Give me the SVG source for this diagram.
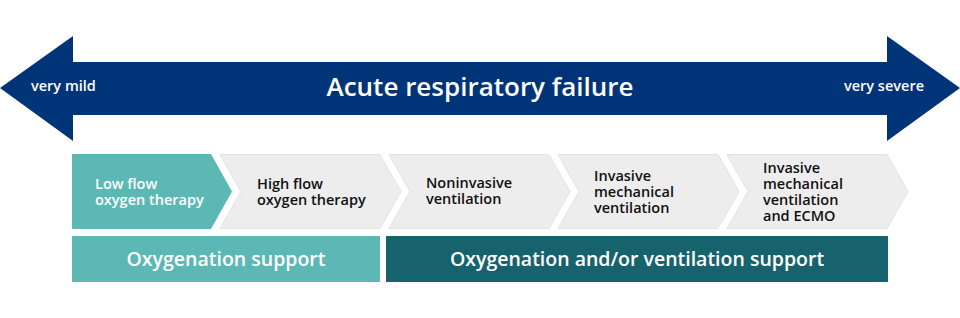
<svg xmlns="http://www.w3.org/2000/svg" width="960" height="318" viewBox="0 0 960 318">
<style>
  text { font-family: "Open Sans", "Noto Sans", "Liberation Sans", sans-serif; font-weight: 600; }
  .head { fill: #ffffff; font-size: 26px; }
  .end { fill: #ffffff; font-size: 14.5px; }
  .step { fill: #111111; font-size: 14.5px; }
  .stepw { fill: #ffffff; font-size: 14.5px; }
  .bar { fill: #ffffff; font-size: 19.5px; }
  .grey { fill: #ededed; stroke: #e3e3e3; stroke-width: 1; }
</style>
<rect width="960" height="318" fill="#ffffff"/>
<g id="severity-arrow">
  <polygon points="0,88 73,36 73,62 887,62 887,36 960,88 887,141 887,115 73,115 73,141" fill="#003478"/>
  <text class="head" x="480" y="96" text-anchor="middle">Acute respiratory failure</text>
  <text class="end" x="31" y="91">very mild</text>
  <text class="end" x="924" y="91" text-anchor="end">very severe</text>
</g>
<g id="step-low-flow">
  <polygon points="72,154 211,154 232,191.5 211,229 72,229" fill="#5cb8b5"/>
  <text class="stepw" x="95" y="189">Low flow</text>
  <text class="stepw" x="95" y="205">oxygen therapy</text>
</g>
<g id="step-high-flow">
  <polygon class="grey" points="220,154.5 380,154.5 401,191.5 380,228.5 220,228.5 241,191.5"/>
  <text class="step" x="257" y="189">High flow</text>
  <text class="step" x="257" y="205">oxygen therapy</text>
</g>
<g id="step-noninvasive">
  <polygon class="grey" points="389,154.5 549,154.5 570,191.5 549,228.5 389,228.5 410,191.5"/>
  <text class="step" x="426" y="188">Noninvasive</text>
  <text class="step" x="426" y="204">ventilation</text>
</g>
<g id="step-invasive">
  <polygon class="grey" points="558,154.5 718,154.5 739,191.5 718,228.5 558,228.5 579,191.5"/>
  <text class="step" x="594" y="181">Invasive</text>
  <text class="step" x="594" y="197">mechanical</text>
  <text class="step" x="594" y="213">ventilation</text>
</g>
<g id="step-ecmo">
  <polygon class="grey" points="727,154.5 887,154.5 908,191.5 887,228.5 727,228.5 748,191.5"/>
  <text class="step" x="763" y="173">Invasive</text>
  <text class="step" x="763" y="189">mechanical</text>
  <text class="step" x="763" y="205">ventilation</text>
  <text class="step" x="763" y="221">and ECMO</text>
</g>
<g id="oxygenation-support">
  <rect x="72" y="236" width="308" height="46" fill="#5cb8b5"/>
  <text class="bar" x="226" y="266" text-anchor="middle">Oxygenation support</text>
</g>
<g id="ventilation-support">
  <rect x="386" y="236" width="502" height="46" fill="#16636e"/>
  <text class="bar" x="637" y="266" text-anchor="middle">Oxygenation and/or ventilation support</text>
</g>
<g id="connectors"></g>
</svg>
